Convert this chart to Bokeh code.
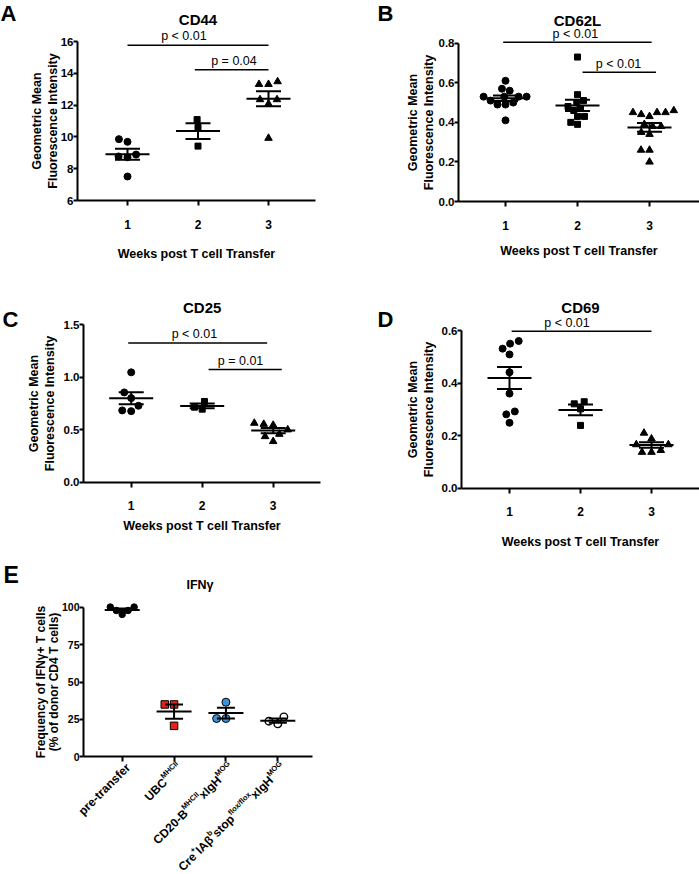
import math
import numpy as np
from bokeh.plotting import figure
from bokeh.models import Label, FixedTicker, Range1d, PrintfTickFormatter
from bokeh.layouts import column, row
from bokeh.embed import file_html
from bokeh.resources import INLINE

FONT = "Liberation Sans"

# ---------------- data ----------------
week_x = [1, 2, 3]
xlabel_weeks = "Weeks post T cell Transfer"
ylabel_gmfi = "Geometric Mean\nFluorescence Intensity"

cd44_w1 = [9.69, 9.86, 8.77, 8.72, 8.89, 7.51]
cd44_w2 = [11.09, 10.59, 9.42]
cd44_w3 = [13.48, 13.31, 13.31, 12.35, 12.08, 12.35, 9.92]
cd44_yticks = [6, 8, 10, 12, 14, 16]
cd44_brackets = [(1.0, 3.0, 15.77, 1.80, "p < 0.01"), (1.955, 3.0, 14.22, 2.51, "p = 0.04")]

cd62l_w1 = [0.61, 0.57, 0.56, 0.53, 0.53, 0.53, 0.53, 0.51, 0.50, 0.49, 0.49, 0.41]
cd62l_w2 = [0.73, 0.54, 0.51, 0.50, 0.48, 0.47, 0.46, 0.43, 0.43, 0.40, 0.39]
cd62l_w3 = [0.46, 0.45, 0.45, 0.45, 0.44, 0.43, 0.39, 0.38, 0.38, 0.35, 0.34, 0.26, 0.26, 0.20]
cd62l_yticks = [0.0, 0.2, 0.4, 0.6, 0.8]
cd62l_brackets = [(0.968, 3.03, 0.805, 1.97, "p < 0.01"), (2.07, 3.09, 0.653, 2.57, "p < 0.01")]

cd25_w1 = [1.045, 0.854, 0.80, 0.727, 0.676, 0.683]
cd25_w2 = [0.768, 0.695, 0.714]
cd25_w3 = [0.562, 0.543, 0.552, 0.457, 0.499, 0.435, 0.388]
cd25_yticks = [0.0, 0.5, 1.0, 1.5]
cd25_brackets = [(0.958, 2.915, 1.324, 1.89, "p < 0.01"), (2.09, 3.12, 1.073, 2.54, "p = 0.01")]

cd69_w1 = [0.56, 0.55, 0.531, 0.509, 0.441, 0.36, 0.292, 0.281, 0.249]
cd69_w2 = [0.321, 0.329, 0.302, 0.239]
cd69_w3 = [0.21, 0.188, 0.166, 0.166, 0.144, 0.137, 0.137]
cd69_yticks = [0.0, 0.2, 0.4, 0.6]
cd69_brackets = [(1.03, 3.0, 0.597, 1.81, "p < 0.01")]

ifng_x = [1, 2, 3, 4]
ifng_pre = [100.1, 97.8, 95.2, 97.8, 100.1]
ifng_ubc = [35.0, 35.0, 20.7]
ifng_cd20 = [36.5, 25.6, 25.6]
ifng_cre = [26.7, 22.0, 23.8]
ifng_yticks = [0, 25, 50, 75, 100]
ifng_ylabel = "Frequency of IFN\u03b3+ T cells\n(% of donor CD4 T cells)"
# category labels: (text, is_superscript)
ifng_cats = [
    [("pre-transfer", 0)],
    [("UBC", 0), ("MHCII", 1)],
    [("CD20-B", 0), ("MHCII", 1), ("xIgH", 0), ("MOG", 1)],
    [("Cre", 0), ("+", 1), ("IA\u03b2", 0), ("b", 1), ("stop", 0), ("flox/flox", 1), ("xIgH", 0), ("MOG", 1)],
]

# ---------------- helpers ----------------
W_BOLD = {' ': .278, '-': .333, '/': .278, '+': .584, '.': .278,
          'a': .556, 'b': .611, 'c': .556, 'd': .611, 'e': .556, 'f': .333, 'g': .611,
          'h': .611, 'i': .278, 'l': .278, 'n': .611, 'o': .611, 'p': .611, 'r': .389,
          's': .556, 't': .333, 'x': .556, 'A': .722, 'B': .722, 'C': .722, 'D': .722,
          'G': .778, 'H': .722, 'I': .278, 'M': .833, 'O': .778, 'U': .722, '\u03b2': .611}


def tw(s, size):
    return sum(W_BOLD.get(ch, .556) for ch in s) * size


class Panel:
    """A figure whose frame fills its whole canvas; axes are placed at fixed data locations."""

    def __init__(self, box, xref, yref, yaxis_px, xaxis_end_px, ybounds):
        fx, fy, fw, fh = box
        (xv0, xp0), (xv1, xp1) = xref
        (yv0, yp0), (yv1, yp1) = yref
        self.xv = lambda px: xv0 + (px - xp0) * (xv1 - xv0) / (xp1 - xp0)
        self.yv = lambda py: yv0 + (py - yp0) * (yv1 - yv0) / (yp1 - yp0)
        self.ypx = lambda v: yp0 + (v - yv0) * (yp1 - yp0) / (yv1 - yv0)
        self.xpx = lambda v: xp0 + (v - xv0) * (xp1 - xp0) / (xv1 - xv0)
        self.sx = (xp1 - xp0) / (xv1 - xv0)
        self.sy = (yp0 - yp1) / (yv1 - yv0)
        p = figure(width=fw, height=fh,
                   x_range=Range1d(self.xv(fx), self.xv(fx + fw)),
                   y_range=Range1d(self.yv(fy + fh), self.yv(fy)),
                   min_border=0, min_border_left=0, min_border_right=0,
                   min_border_top=0, min_border_bottom=0,
                   output_backend="svg", toolbar_location=None, tools="")
        p.xgrid.visible = False
        p.ygrid.visible = False
        p.outline_line_color = None
        p.background_fill_color = "white"
        p.border_fill_color = "white"
        for ax in (p.xaxis[0], p.yaxis[0]):
            ax.axis_line_width = 2
            ax.axis_line_color = "black"
            ax.major_tick_line_width = 2
            ax.major_tick_line_color = "black"
            ax.major_tick_in = 0
            ax.minor_tick_line_color = None
            ax.major_label_text_font = FONT
            ax.major_label_text_font_style = "bold"
            ax.major_label_text_color = "black"
            ax.axis_label_text_font = FONT
            ax.axis_label_text_font_style = "bold"
            ax.axis_label_text_color = "black"
            ax.axis_label_text_font_size = "12.5px"
            ax.axis_label_text_line_height = 1.1
        p.yaxis.fixed_location = self.xv(yaxis_px)
        p.xaxis.fixed_location = ybounds[0]
        p.yaxis.bounds = ybounds
        p.xaxis.bounds = (self.xv(yaxis_px), self.xv(xaxis_end_px))
        p.xaxis.major_tick_out = 5
        p.yaxis.major_tick_out = 4
        p.xaxis.major_label_text_font_size = "12px"
        p.yaxis.major_label_text_font_size = "11.5px"
        p.xaxis.major_label_standoff = 14
        p.yaxis.major_label_standoff = 0
        self.p = p

    def label(self, px, py, text, size, bold=False, align="center", baseline="middle", angle=0.0):
        self.p.add_layout(Label(x=self.xv(px), y=self.yv(py), text=text, text_font=FONT,
                                text_font_size=f"{size}px",
                                text_font_style="bold" if bold else "normal",
                                text_align=align, text_baseline=baseline, angle=angle,
                                text_color="black"))


def swarm(vals, sy, d):
    offs = [0.0] * len(vals)
    placed = []
    for i in sorted(range(len(vals)), key=lambda k: vals[k]):
        y = vals[i] * sy
        iv = []
        for xo, yo in placed:
            dy = abs(y - yo)
            if dy < d:
                w = math.sqrt(d * d - dy * dy)
                iv.append((xo - w, xo + w))
        cands = [0.0] + [c for a in iv for c in a]
        cands.sort(key=lambda c: (abs(c), c))
        for c in cands:
            if all(not (a + 1e-6 < c < b - 1e-6) for a, b in iv):
                offs[i] = c
                break
        placed.append((offs[i], y))
    return offs


def add_group(P, xc, vals, marker, size, fill, line="black", lw=1.0, d=8.5,
              mean_hw=22.0, cap_hw=12.5):
    p = P.p
    offs = swarm(vals, P.sy, d)
    xs = [xc + o / P.sx for o in offs]
    p.scatter(xs, vals, marker=marker, size=size, fill_color=fill, line_color=line, line_width=lw)
    arr = np.array(vals, dtype=float)
    m = float(arr.mean())
    s = float(arr.std(ddof=1) / math.sqrt(len(arr)))
    mh = mean_hw / P.sx
    ch = cap_hw / P.sx
    p.segment(x0=[xc - mh, xc - ch, xc - ch, xc], y0=[m, m + s, m - s, m - s],
              x1=[xc + mh, xc + ch, xc + ch, xc], y1=[m, m + s, m - s, m + s],
              line_color="black", line_width=2)


def add_brackets(P, brackets, fs=12.5):
    for x0, x1, y, tx, txt in brackets:
        P.p.segment(x0=[x0], y0=[y], x1=[x1], y1=[y], line_color="black", line_width=1.5)
        P.label(P.xpx(tx), P.ypx(y) - 8.7, txt, fs, bold=False, baseline="middle")


def weeks_panel(box, xref, yref, yaxis_px, xend_px, bounds, yticks, fmt, groups, brackets,
                title, title_y, letter, letter_xy, xlab_standoff, ylab_standoff, dpad=2.0):
    P = Panel(box, xref, yref, yaxis_px, xend_px, bounds)
    p = P.p
    p.xaxis.ticker = FixedTicker(ticks=week_x)
    p.yaxis.ticker = FixedTicker(ticks=yticks)
    if fmt:
        p.yaxis.formatter = PrintfTickFormatter(format=fmt)
    p.xaxis.axis_label = xlabel_weeks
    p.xaxis.axis_label_standoff = xlab_standoff
    p.yaxis.axis_label = ylabel_gmfi
    p.yaxis.axis_label_standoff = ylab_standoff
    markers = [("circle", 7.0), ("square", 6.0), ("triangle", 7.5)]
    for (mk, sz), xc, vals in zip(markers, week_x, groups):
        add_group(P, xc, vals, mk, sz, "black", d=sz + dpad)
    add_brackets(P, brackets)
    P.label(P.xpx(2), title_y, title, 15, bold=True)
    P.label(letter_xy[0], letter_xy[1], letter, 22, bold=True, align="left", baseline="middle")
    return p


pa = weeks_panel((0, 0, 350, 280), ((1, 127), (3, 268)), ((16, 41), (6, 200)), 77, 315,
                 (6, 16), cd44_yticks, None, [cd44_w1, cd44_w2, cd44_w3], cd44_brackets,
                 "CD44", 18.5, "A", (0, 12.5), 15, -2)
pb = weeks_panel((350, 0, 349, 280), ((1, 505), (3, 649)), ((0.8, 42.7), (0, 201)), 458, 699,
                 (0, 0.8), cd62l_yticks, "%.1f", [cd62l_w1, cd62l_w2, cd62l_w3], cd62l_brackets,
                 "CD62L", 19.5, "B", (377, 12.5), 11, 0, dpad=1.0)
pc = weeks_panel((0, 280, 350, 275), ((1, 130.7), (3, 272.7)), ((1.5, 324), (0, 481.7)), 83, 320,
                 (0, 1.5), cd25_yticks, "%.1f", [cd25_w1, cd25_w2, cd25_w3], cd25_brackets,
                 "CD25", 307, "C", (2, 319), 5, 4)
pd_ = weeks_panel((350, 280, 349, 275), ((1, 509), (3, 651)), ((0.6, 330), (0, 487.7)), 461, 699,
                  (0, 0.6), cd69_yticks, "%.1f", [cd69_w1, cd69_w2, cd69_w3], cd69_brackets,
                  "CD69", 307, "D", (377, 319), 15, 3)

# ---------------- panel E ----------------
PE = Panel((0, 555, 350, 318), ((1, 121.7), (4, 277.3)), ((100, 606.7), (0, 756.3)), 83, 312, (0, 100))
pe = PE.p
pe.xaxis.ticker = FixedTicker(ticks=ifng_x)
pe.xaxis.major_label_overrides = {1: "", 2: "", 3: "", 4: ""}
pe.yaxis.ticker = FixedTicker(ticks=ifng_yticks)
pe.yaxis.major_label_text_font_size = "10.5px"
pe.yaxis.axis_label = ifng_ylabel
pe.yaxis.axis_label_text_font_size = "12px"
pe.yaxis.axis_label_text_line_height = 0.95
pe.yaxis.axis_label_standoff = -2
add_group(PE, 1, ifng_pre, "circle", 6.5, "black", d=7.0, mean_hw=17.5, cap_hw=9)
add_group(PE, 2, ifng_ubc, "square", 7.5, "#e3201b", lw=1.0, d=9.3, mean_hw=17.5, cap_hw=9)
add_group(PE, 3, ifng_cd20, "circle", 8.0, "#3d91d8", lw=1.0, d=9.3, mean_hw=17.5, cap_hw=9)
add_group(PE, 4, ifng_cre, "circle", 7.5, "white", lw=1.4, d=9.3, mean_hw=17.5, cap_hw=9)
PE.label(PE.xpx(2.5), 584, "IFN\u03b3", 12.5, bold=True)
PE.label(3, 574, "E", 23, bold=True, align="left", baseline="middle")

# rotated category labels with superscripts (anchored on the text's middle line)
ux, uy = math.cos(math.pi / 4), -math.sin(math.pi / 4)
vx, vy = -math.cos(math.pi / 4), -math.sin(math.pi / 4)
MAIN, SUP, RAISE = 12.0, 7.5, 4.6
for xc, pieces in zip(ifng_x, ifng_cats):
    rx, ry = PE.xpx(xc) + 6.0, 765.0
    for txt, sup in reversed(pieces):
        size = SUP if sup else MAIN
        ax_, ay_ = (rx + RAISE * vx, ry + RAISE * vy) if sup else (rx, ry)
        PE.label(ax_, ay_, txt, size, bold=True, align="right", baseline="middle",
                 angle=math.pi / 4)
        w = tw(txt, size)
        rx -= w * ux
        ry -= w * uy

layout = column(row(pa, pb), row(pc, pd_), pe)
open("out.html", "w").write(file_html(layout, INLINE))
